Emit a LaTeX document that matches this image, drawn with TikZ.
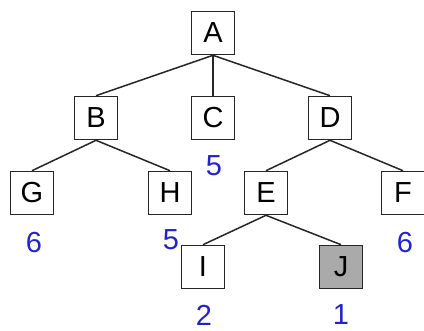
\documentclass[tikz,border=0pt]{standalone}
\usepackage{fontspec}
\setmainfont{Liberation Sans}
\definecolor{numblue}{RGB}{35,35,205}
\definecolor{leafgray}{RGB}{170,170,170}
\begin{document}
\begin{tikzpicture}[x=1pt,y=-1pt,
  tnode/.style={draw=black!85,line width=1.6pt,fill=white,minimum width=43pt,minimum height=43pt,inner sep=0pt,font=\fontsize{29}{30}\selectfont},
  val/.style={text=numblue,font=\fontsize{29}{30}\selectfont,inner sep=0pt},
  edge/.style={line width=1.5pt,draw=black!85}]
\useasboundingbox (0,0) rectangle (424,331);
\node[tnode] (A) at (213,33) {A};
\node[tnode] (B) at (96,118) {B};
\node[tnode] (C) at (213,118) {C};
\node[tnode] (D) at (330,118) {D};
\node[tnode] (G) at (32,193) {G};
\node[tnode] (H) at (170,193) {H};
\node[tnode] (E) at (266,193) {E};
\node[tnode] (F) at (403,193) {F};
\draw[edge] (A.south) -- (B.north);
\draw[edge] (A.south) -- (C.north);
\draw[edge] (A.south) -- (D.north);
\draw[edge] (B.south) -- (G.north);
\draw[edge] (B.south) -- (H.north);
\draw[edge] (D.south) -- (E.north);
\draw[edge] (D.south) -- (F.north);
\node[val] (vC) at (214,166) {5};
\node[val] (vG) at (34,243) {6};
\node[val] (vH) at (171,240) {5};
\node[val] (vF) at (405,243) {6};
\node[tnode] (I) at (203,267) {I};
\node[tnode,fill=leafgray] (J) at (341,267) {J};
\draw[edge] (E.south) -- (I.north);
\draw[edge] (E.south) -- (J.north);
\node[val] (vI) at (204,315) {2};
\node[val] (vJ) at (341,315) {1};
\end{tikzpicture}
\end{document}
